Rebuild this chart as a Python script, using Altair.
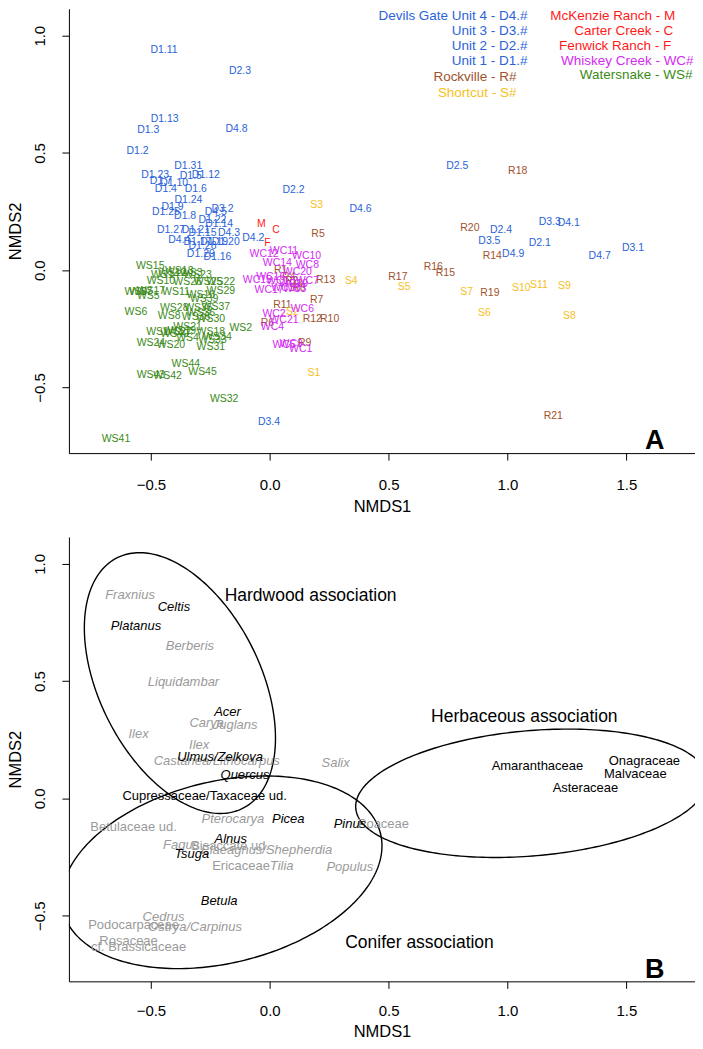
import altair as alt
import numpy as np
import pandas as pd

FONT = "Liberation Sans"

# ---------------- Panel A : NMDS site scores ----------------
dg_labels = ["D1.11","D2.3","D1.13","D1.3","D4.8","D1.2","D1.31","D1.23","D1.5","D1.12","D1.7","D1.10",
             "D1.4","D1.6","D1.24","D1.9","D1.25","D1.8","D3.2","D4.5","D1.22","D1.14","D1.27","D1.21",
             "D1.15","D4.3","D4.4","D1.17","D1.19","D1.20","D4.2","D1.28","D1.29","D1.16","D2.2","D4.6",
             "D2.5","D2.4","D3.5","D4.9","D3.3","D4.1","D2.1","D4.7","D3.1","D3.4"]
dg_x = [-0.445,-0.125,-0.442,-0.511,-0.140,-0.556,-0.343,-0.482,-0.332,-0.269,-0.458,-0.402,
        -0.437,-0.311,-0.342,-0.409,-0.437,-0.356,-0.199,-0.227,-0.241,-0.213,-0.416,-0.311,
        -0.283,-0.171,-0.381,-0.304,-0.234,-0.185,-0.069,-0.283,-0.290,-0.220,0.100,0.382,
        0.789,0.973,0.924,1.024,1.178,1.258,1.136,1.388,1.528,-0.003]
dg_y = [0.940,0.849,0.646,0.597,0.602,0.507,0.443,0.405,0.400,0.406,0.380,0.372,
        0.348,0.348,0.301,0.270,0.249,0.231,0.263,0.249,0.213,0.199,0.170,0.170,
        0.159,0.159,0.128,0.121,0.121,0.121,0.139,0.102,0.071,0.057,0.341,0.260,
        0.443,0.173,0.125,0.068,0.206,0.203,0.118,0.061,0.095,-0.646]

red_labels = ["M","C","F"]
red_x = [-0.035,0.026,-0.010]
red_y = [0.199,0.170,0.116]

rv_labels = ["R18","R5","R20","R14","R16","R15","R17","R19","R13","R7","R11","R12","R10","R9","R21",
             "R1","R2","R3","R4","R6","R8"]
rv_x = [1.043,0.203,0.842,0.936,0.688,0.739,0.539,0.926,0.235,0.197,0.053,0.179,0.252,0.147,1.193,
        0.046,0.092,0.110,0.080,-0.010,0.123]
rv_y = [0.423,0.153,0.180,0.061,0.014,-0.014,-0.029,-0.099,-0.043,-0.128,-0.149,-0.206,-0.206,-0.312,-0.622,
        0.000,-0.045,-0.060,-0.030,-0.227,-0.074]

sc_labels = ["S3","S4","S5","S7","S10","S11","S9","S6","S8","S2","S1"]
sc_x = [0.197,0.343,0.565,0.828,1.058,1.132,1.240,0.903,1.261,0.095,0.186]
sc_y = [0.280,-0.045,-0.071,-0.092,-0.078,-0.064,-0.068,-0.183,-0.195,-0.178,-0.440]

wc_labels = ["WC11","WC12","WC10","WC14","WC8","WC20","WC15","WC16","WC7","WC13","WC19","WC17",
             "WC18","WC3","WC6","WC2","WC21","WC4","WC5","WC1","WC9"]
wc_x = [0.060,-0.024,0.155,0.032,0.158,0.116,-0.052,0.004,0.158,0.046,0.100,-0.003,
        0.067,0.105,0.137,0.018,0.060,0.011,0.060,0.130,0.090]
wc_y = [0.082,0.068,0.060,0.029,0.021,-0.007,-0.040,-0.029,-0.045,-0.045,-0.060,-0.085,
        -0.074,-0.080,-0.166,-0.185,-0.213,-0.242,-0.320,-0.338,-0.315]

ws_labels = ["WS15","WS13","WS23","WS12","WS10","WS26","WS25","WS22","WS7","WS9","WS5","WS11",
             "WS29","WS16","WS39","WS6","WS28","WS37","WS8","WS36","WS30","WS21","WS1","WS27",
             "WS18","WS2","WS34","WS33","WS4","WS24","WS20","WS31","WS44","WS45","WS43","WS42",
             "WS32","WS41","WS14","WS17","WS19","WS35","WS38","WS40","WS3"]
ws_x = [-0.503,-0.381,-0.304,-0.410,-0.458,-0.346,-0.260,-0.206,-0.542,-0.563,-0.511,-0.395,
        -0.206,-0.290,-0.276,-0.563,-0.402,-0.227,-0.423,-0.290,-0.248,-0.346,-0.472,-0.388,
        -0.248,-0.122,-0.220,-0.241,-0.346,-0.500,-0.416,-0.248,-0.353,-0.283,-0.500,-0.430,
        -0.192,-0.647,-0.440,-0.500,-0.370,-0.300,-0.310,-0.400,-0.330]
ws_y = [0.017,-0.003,-0.021,-0.010,-0.045,-0.050,-0.050,-0.050,-0.092,-0.092,-0.111,-0.092,
        -0.088,-0.107,-0.121,-0.178,-0.163,-0.159,-0.195,-0.182,-0.206,-0.242,-0.263,-0.263,
        -0.263,-0.248,-0.287,-0.298,-0.291,-0.312,-0.320,-0.329,-0.398,-0.433,-0.447,-0.452,
        -0.550,-0.720,-0.020,-0.090,-0.260,-0.160,-0.200,-0.270,-0.010]

# legend text (right aligned)
leg_text = ["Devils Gate Unit 4 - D4.#","Unit 3 - D3.#","Unit 2 - D2.#","Unit 1 - D1.#",
            "Rockville - R#","Shortcut - S#",
            "McKenzie Ranch - M","Carter Creek - C","Fenwick Ranch - F","Whiskey Creek - WC#",
            "Watersnake - WS#"]
leg_site = ["D","D","D","D","R","S","RED","RED","RED","WC","WS"]
leg_x = [1.084,1.084,1.084,1.084,1.038,1.038,1.706,1.697,1.689,1.783,1.778]
leg_y = [1.085,1.021,0.957,0.893,0.825,0.757,1.085,1.021,0.957,0.893,0.834]

site_colors = {"D": "#2A63D8", "RED": "#FF1A1A", "R": "#A0522D", "S": "#F5C11B",
               "WC": "#D42AF2", "WS": "#3B8A17"}

# ---------------- Panel B : taxa scores ----------------
bi_labels = ["Celtis","Platanus","Acer","Ulmus/Zelkova","Quercus","Picea","Pinus","Alnus","Tsuga","Betula"]
bi_x = [-0.403,-0.563,-0.178,-0.209,-0.104,0.078,0.337,-0.164,-0.328,-0.213]
bi_y = [0.816,0.734,0.368,0.177,0.099,-0.088,-0.111,-0.171,-0.236,-0.438]

gi_labels = ["Fraxnius","Berberis","Liquidambar","Carya","Juglans","Ilex","Ilex","Castanea/Lithocarpus",
             "Salix","Pterocarya","Fagus","Elaeagnus/Shepherdia","Tilia","Populus","Cedrus","Ostrya/Carpinus"]
gi_x = [-0.588,-0.336,-0.363,-0.265,-0.146,-0.552,-0.297,-0.223,
        0.277,-0.155,-0.373,-0.013,0.050,0.337,-0.447,-0.314]
gi_y = [0.868,0.652,0.498,0.323,0.314,0.275,0.228,0.160,
        0.152,-0.088,-0.200,-0.222,-0.289,-0.294,-0.505,-0.550]

bn_labels = ["Cupressaceae/Taxaceae ud.","Onagraceae","Amaranthaceae","Malvaceae","Asteraceae"]
bn_x = [-0.274,1.576,1.126,1.538,1.328]
bn_y = [0.009,0.160,0.138,0.104,0.043]

gn_labels = ["Betulaceae ud.","Bisaccate ud.","Poaceae","Ericaceae","Podocarpaceae","Rosaceae","cf. Brassicaceae"]
gn_x = [-0.573,-0.167,0.478,-0.121,-0.573,-0.594,-0.552]
gn_y = [-0.121,-0.203,-0.107,-0.287,-0.539,-0.610,-0.635]

assoc_labels = ["Hardwood association","Herbaceous association","Conifer association"]
assoc_x = [0.172,1.071,0.630]
assoc_y = [0.864,0.346,-0.618]

# ellipses: centre x, centre y, semi-major, semi-minor, angle (deg)
ell_names = ["Hardwood","Conifer","Herbaceous"]
ell_cx = [-0.378,-0.202,1.101]
ell_cy = [0.492,-0.315,0.022]
ell_a = [0.596,0.688,0.742]
ell_b = [0.340,0.387,0.267]
ell_ang = [-64.0,14.0,5.0]

# ---------------- build tables ----------------
def grp(labels, xs, ys, site):
    return pd.DataFrame({"label": labels, "x": xs, "y": ys, "color": site_colors[site]})

sites = pd.concat([grp(dg_labels, dg_x, dg_y, "D"), grp(red_labels, red_x, red_y, "RED"),
                   grp(rv_labels, rv_x, rv_y, "R"), grp(sc_labels, sc_x, sc_y, "S"),
                   grp(wc_labels, wc_x, wc_y, "WC"), grp(ws_labels, ws_x, ws_y, "WS")],
                  ignore_index=True)
legend = pd.DataFrame({"label": leg_text, "x": leg_x, "y": leg_y,
                       "color": [site_colors[s] for s in leg_site]})

t = np.linspace(0, 2 * np.pi, 241)
rows = []
for n, cx, cy, a, b, ang in zip(ell_names, ell_cx, ell_cy, ell_a, ell_b, ell_ang):
    th = np.deg2rad(ang)
    ex = cx + a * np.cos(th) * np.cos(t) - b * np.sin(th) * np.sin(t)
    ey = cy + a * np.sin(th) * np.cos(t) + b * np.cos(th) * np.sin(t)
    for i, (px, py) in enumerate(zip(ex, ey)):
        rows.append({"ell": n, "i": i, "x": float(px), "y": float(py)})
ellipses = pd.DataFrame(rows)

XDOM = [-0.845, 1.789]
YDOM = [-0.78, 1.115]
W, H = 627, 445

def make_xaxis(lp, tp):
    return alt.Axis(values=[-0.5, 0, 0.5, 1.0, 1.5], format=".1f", title="NMDS1",
                    tickSize=7, labelPadding=lp, titlePadding=tp, grid=False)

yaxis = alt.Axis(values=[-0.5, 0, 0.5, 1.0], format=".1f", title="NMDS2",
                 tickSize=7, labelPadding=14, titlePadding=9, labelAngle=270,
                 labelAlign="center", labelBaseline="bottom", grid=False)

XS = alt.Scale(domain=XDOM, nice=False, zero=False)
YS = alt.Scale(domain=YDOM, nice=False, zero=False)

xaxisA = make_xaxis(17, 6)
xaxisB = make_xaxis(15, 5)

def X(ax):
    return alt.X("x:Q", scale=XS, axis=ax)

def Y():
    return alt.Y("y:Q", scale=YS, axis=yaxis)

# panel A
a_pts = alt.Chart(sites).mark_text(font=FONT, fontSize=10.5).encode(
    x=X(xaxisA), y=Y(), text="label:N", color=alt.Color("color:N", scale=None))
a_leg = alt.Chart(legend).mark_text(font=FONT, fontSize=13.5, align="right").encode(
    x=X(xaxisA), y=Y(), text="label:N", color=alt.Color("color:N", scale=None))
a_tag = alt.Chart(pd.DataFrame({"label": ["A"], "x": [1.62], "y": [-0.73]})).mark_text(
    font=FONT, fontSize=27, fontWeight="bold", color="black").encode(x=X(xaxisA), y=Y(), text="label:N")
panelA = alt.layer(a_pts, a_leg, a_tag).properties(width=W, height=H)

# panel B
b_ell = alt.Chart(ellipses).mark_line(color="black", strokeWidth=1.4, clip=True).encode(
    x=X(xaxisB), y=Y(), detail="ell:N", order="i:Q")

def txt(labels, xs, ys, color, style, size=13):
    df = pd.DataFrame({"label": labels, "x": xs, "y": ys})
    return alt.Chart(df).mark_text(font=FONT, fontSize=size, fontStyle=style, color=color).encode(
        x=X(xaxisB), y=Y(), text="label:N")

b_layers = [
    b_ell,
    txt(gi_labels, gi_x, gi_y, "#9A9A9A", "italic"),
    txt(gn_labels, gn_x, gn_y, "#9A9A9A", "normal"),
    txt(bi_labels, bi_x, bi_y, "#000000", "italic"),
    txt(bn_labels, bn_x, bn_y, "#000000", "normal"),
    txt(assoc_labels, assoc_x, assoc_y, "#000000", "normal", size=17.5),
    alt.Chart(pd.DataFrame({"label": ["B"], "x": [1.62], "y": [-0.73]})).mark_text(
        font=FONT, fontSize=27, fontWeight="bold", color="black").encode(x=X(xaxisB), y=Y(), text="label:N"),
]
panelB = alt.layer(*b_layers).properties(width=W, height=H)

chart = alt.vconcat(panelA, panelB, spacing=22).properties(padding=0).configure_view(
    stroke=None).configure_axis(
    domainColor="black", tickColor="black", labelColor="black", titleColor="black",
    labelFont=FONT, titleFont=FONT, labelFontSize=15, titleFontSize=16.5, titleFontWeight="normal",
    domainWidth=1, tickWidth=1)

chart.save("out.html", embed_options={"renderer": "svg", "actions": False})
